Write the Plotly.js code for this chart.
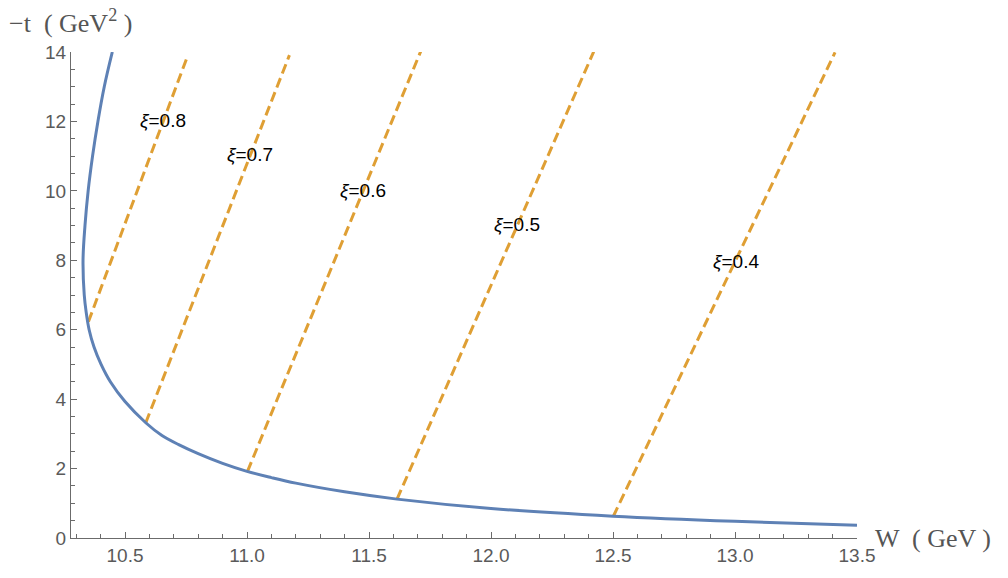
<!DOCTYPE html>
<html>
<head>
<meta charset="utf-8">
<script src="https://cdn.plot.ly/plotly-3.0.1.min.js"></script>
<style>html,body{margin:0;padding:0;background:#fff;}#chart{width:1008px;height:578px;}</style>
</head>
<body>
<div id="chart"></div>
<script>
// Boundary curve -t vs W
const curveW = [10.448, 10.415, 10.389, 10.367, 10.349, 10.336, 10.328, 10.333, 10.341, 10.353, 10.373, 10.402, 10.440, 10.500, 10.585, 10.650, 10.720, 10.800, 10.900, 11.000, 11.100, 11.200, 11.400, 11.615, 12.000, 12.500, 13.000, 13.500];
const curveT = [14.0, 13.0, 12.0, 11.0, 10.0, 9.0, 8.0, 7.0, 6.5, 6.0, 5.5, 5.0, 4.5, 3.93, 3.32, 2.96, 2.69, 2.43, 2.15, 1.92, 1.74, 1.58, 1.33, 1.12, 0.85, 0.63, 0.48, 0.37];

// Constant-xi lines
const xiValues = ["0.8", "0.7", "0.6", "0.5", "0.4"];
const xiWLow  = [10.350, 10.585, 11.002, 11.615, 12.501];
const xiTLow  = [6.23, 3.32, 1.92, 1.12, 0.62];
const xiWHigh = [10.753, 11.174, 11.712, 12.421, 13.410];
const xiTHigh = [13.82, 13.91, 14.02, 14.01, 13.99];

// Label positions
const labelW = [10.654, 11.011, 11.475, 12.107, 13.004];
const labelT = [12.03, 11.04, 10.01, 9.02, 7.96];

const traces = [];
for (let i = 0; i < xiValues.length; i++) {
  traces.push({
    x: [xiWLow[i], xiWHigh[i]],
    y: [xiTLow[i], xiTHigh[i]],
    mode: 'lines',
    line: {color: '#DF9F34', width: 3, dash: '10px,5px'},
    hoverinfo: 'skip',
    showlegend: false
  });
}
traces.push({
  x: curveW, y: curveT,
  mode: 'lines',
  line: {color: '#5E81B5', width: 3, shape: 'spline', smoothing: 1},
  hoverinfo: 'skip',
  showlegend: false
});

const annotations = xiValues.map((v, i) => ({
  x: labelW[i], y: labelT[i], xref: 'x', yref: 'y',
  text: '<i>ξ</i>=' + v, showarrow: false,
  font: {family: 'Liberation Sans, Arial, sans-serif', size: 19, color: '#000'},
  xanchor: 'center', yanchor: 'middle'
}));
annotations.push({
  xref: 'paper', yref: 'paper', x: 1.0204, y: 0, xanchor: 'left', yanchor: 'middle',
  text: 'W  ( GeV )', showarrow: false,
  font: {family: 'Liberation Serif, Times New Roman, serif', size: 26, color: '#555'}
});
annotations.push({
  xref: 'paper', yref: 'paper', x: -0.0814, y: 1.062, xanchor: 'left', yanchor: 'middle',
  text: '−t  ( GeV<sup>2</sup> )', showarrow: false,
  font: {family: 'Liberation Serif, Times New Roman, serif', size: 26, color: '#555'}
});

const axisCommon = {
  showgrid: false, zeroline: false, showline: true, linecolor: '#6b6b6b', linewidth: 1,
  ticks: 'inside', ticklen: 6, tickcolor: '#6b6b6b', tickwidth: 1,
  tickfont: {family: 'Liberation Sans, Arial, sans-serif', size: 19, color: '#5a5a5a'}
};

const layout = {
  width: 1008, height: 578,
  margin: {l: 71, r: 151, t: 52, b: 40},
  paper_bgcolor: '#fff', plot_bgcolor: '#fff',
  xaxis: Object.assign({}, axisCommon, {
    range: [10.2787, 13.5], tick0: 0, dtick: 0.5, tickformat: '.1f',
    minor: {dtick: 0.1, tick0: 0, ticks: 'inside', ticklen: 4, tickcolor: '#6b6b6b'}
  }),
  yaxis: Object.assign({}, axisCommon, {
    range: [0, 14], tick0: 0, dtick: 2,
    minor: {dtick: 0.5, tick0: 0, ticks: 'inside', ticklen: 4, tickcolor: '#6b6b6b'}
  }),
  annotations: annotations
};

Plotly.newPlot('chart', traces, layout, {staticPlot: true, displayModeBar: false});
</script>
</body>
</html>
